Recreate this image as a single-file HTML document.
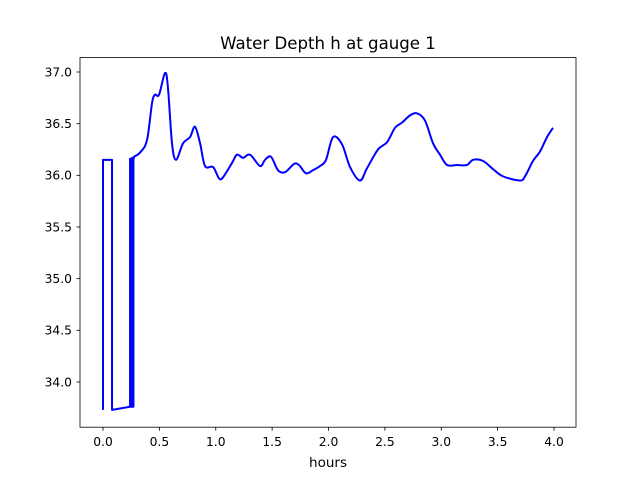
<!DOCTYPE html>
<html><head><meta charset="utf-8"><style>
body{margin:0;background:#fff;font-family:"Liberation Sans","DejaVu Sans",sans-serif}
svg text{font-family:"DejaVu Sans","Liberation Sans",sans-serif}
</style></head><body>
<svg id="chart" width="640" height="480" xmlns="http://www.w3.org/2000/svg">
<rect width="640" height="480" fill="#fff"/>
<text x="328" y="49" font-size="16.6" text-anchor="middle">Water Depth h at gauge 1</text>
<g id="ticks"></g>
<path id="line" fill="none" stroke="#0000ff" stroke-width="2" stroke-linejoin="round"/>
<rect x="80" y="57.6" width="496" height="369.6" fill="none" stroke="#000" stroke-width="0.8"/>
<text x="328" y="467" font-size="13.5" text-anchor="middle">hours</text>
</svg>
<script>
const hours=[0,0,0.08,0.08,0.238,0.24,0.24,0.245,0.245,0.25,0.25,0.255,0.255,0.26,0.26,0.265,0.265,0.27,0.27,0.275,0.275,0.328,0.39,0.435,0.461,0.497,0.55,0.576,0.612,0.648,0.71,0.772,0.816,0.861,0.905,0.976,1.029,1.064,1.144,1.188,1.242,1.304,1.392,1.437,1.49,1.552,1.614,1.694,1.738,1.8,1.863,1.925,1.978,2.04,2.12,2.191,2.279,2.342,2.439,2.519,2.59,2.652,2.723,2.785,2.856,2.927,2.989,3.051,3.14,3.228,3.282,3.37,3.459,3.548,3.698,3.743,3.814,3.876,3.938,3.991];
const depth=[33.73,36.15,36.15,33.73,33.76,33.76,36.16,36.16,33.76,33.76,36.16,36.16,33.76,33.76,36.17,36.17,33.76,33.76,36.17,36.17,36.18,36.22,36.34,36.70,36.78,36.78,36.99,36.85,36.31,36.15,36.31,36.37,36.47,36.31,36.09,36.08,35.97,35.98,36.12,36.20,36.17,36.20,36.09,36.15,36.18,36.05,36.03,36.11,36.10,36.02,36.05,36.09,36.15,36.37,36.30,36.08,35.95,36.07,36.25,36.32,36.46,36.51,36.58,36.60,36.53,36.31,36.20,36.10,36.10,36.10,36.15,36.14,36.06,35.99,35.95,35.99,36.14,36.23,36.37,36.46];
const xTicks=[0,0.5,1,1.5,2,2.5,3,3.5,4];
const xTickLabels=["0.0","0.5","1.0","1.5","2.0","2.5","3.0","3.5","4.0"];
const yTicks=[34,34.5,35,35.5,36,36.5,37];
const yTickLabels=["34.0","34.5","35.0","35.5","36.0","36.5","37.0"];
const X=h=>103+112.75*h;
const Y=v=>72+(37-v)*103.33;
const NS="http://www.w3.org/2000/svg";
const g=document.getElementById('ticks');
function mk(tag,attrs){const e=document.createElementNS(NS,tag);for(const k in attrs)e.setAttribute(k,attrs[k]);g.appendChild(e);return e;}
xTicks.forEach((t,i)=>{
 const l=mk('line',{x1:X(t),x2:X(t),y1:427.2,y2:430.7,stroke:'#000','stroke-width':0.8});
 
 
 const s=mk('text',{x:X(t),y:446,'font-size':12.3,'text-anchor':'middle'});
 s.textContent=xTickLabels[i];
 
 
});
yTicks.forEach((t,i)=>{
 const l=mk('line',{x1:76.5,x2:80,y1:Y(t),y2:Y(t),stroke:'#000','stroke-width':0.8});
 
 
 const s=mk('text',{x:72,y:Y(t)+4.3,'font-size':12.3,'text-anchor':'end'});
 s.textContent=yTickLabels[i];
 
 
});
const SMOOTH_FROM=19;
const px=hours.map(X), py=depth.map(Y);
let d='M'+px[0].toFixed(2)+' '+py[0].toFixed(2);
for(let i=1;i<px.length;i++){
 if(i<=SMOOTH_FROM){d+=' L'+px[i].toFixed(2)+' '+py[i].toFixed(2);continue;}
 const i0=Math.max(SMOOTH_FROM,i-2), i3=Math.min(px.length-1,i+1);
 const c1x=px[i-1]+(px[i]-px[i0])/6, c1y=py[i-1]+(py[i]-py[i0])/6;
 const c2x=px[i]-(px[i3]-px[i-1])/6, c2y=py[i]-(py[i3]-py[i-1])/6;
 d+=' C'+c1x.toFixed(2)+' '+c1y.toFixed(2)+' '+c2x.toFixed(2)+' '+c2y.toFixed(2)+' '+px[i].toFixed(2)+' '+py[i].toFixed(2);
}
document.getElementById('line').setAttribute('d',d);
</script>
</body></html>
